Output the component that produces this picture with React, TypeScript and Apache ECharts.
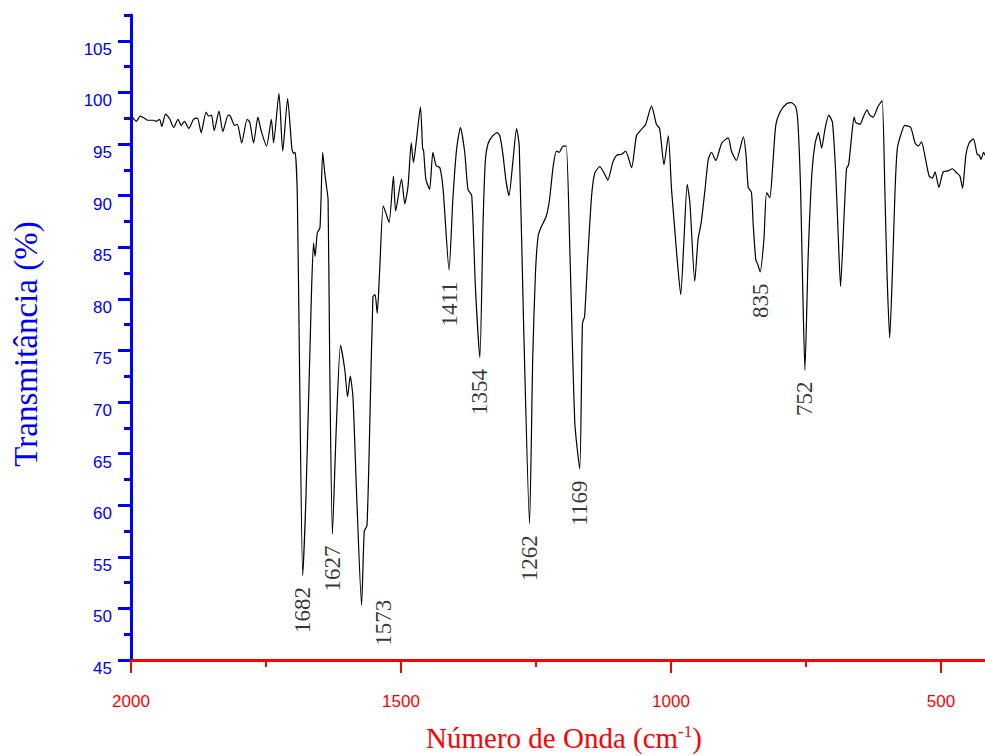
import React, { useEffect, useRef } from 'react';
import * as echarts from 'echarts';

const waveNumbers = [
  2000, 1990, 1983, 1975, 1969, 1959, 1953, 1947, 1943, 1936, 1928, 1921, 1913, 1907, 1901, 1893,
  1884, 1877, 1870, 1861, 1856, 1851, 1846, 1837, 1830, 1820, 1816, 1808, 1803, 1795, 1785, 1780,
  1773, 1765, 1759, 1749, 1740, 1736, 1726, 1719, 1710, 1702, 1699, 1696, 1692, 1688, 1682, 1676,
  1666, 1662, 1659, 1655, 1650, 1645, 1641, 1638, 1635, 1632, 1627, 1620, 1612, 1604, 1599, 1594,
  1589, 1582, 1573, 1568, 1563, 1558, 1552, 1548, 1544, 1540, 1533, 1528, 1522, 1514, 1510, 1499,
  1493, 1487, 1481, 1477, 1472, 1464, 1460, 1458, 1454, 1447, 1441, 1435, 1428, 1422, 1411, 1404,
  1397, 1390, 1382, 1376, 1369, 1362, 1354, 1348, 1344, 1339, 1330, 1322, 1317, 1311, 1306, 1300,
  1293, 1286, 1281, 1273, 1262, 1256, 1251, 1246, 1240, 1231, 1225, 1218, 1212, 1207, 1200, 1194,
  1187, 1178, 1169, 1164, 1160, 1154, 1147, 1141, 1132, 1124, 1117, 1108, 1101, 1092, 1084, 1073,
  1064, 1055, 1047, 1036, 1027, 1021, 1013, 1005, 999, 993, 989, 982, 976, 970, 965, 956,
  950, 944, 937, 931, 925, 917, 906, 894, 888, 879, 866, 861, 857, 851, 848, 843,
  839, 835, 828, 823, 817, 812, 806, 798, 786, 777, 769, 765, 760, 756, 752, 746,
  739, 733, 727, 721, 715, 708, 701, 695, 690, 686, 680, 675, 671, 666, 661, 658,
  650, 644, 637, 632, 626, 616, 609, 604, 600, 595, 590, 585, 581, 575, 567, 556,
  548, 542, 536, 530, 522, 516, 511, 504, 496, 487, 479, 471, 465, 460, 454, 448,
  440, 433, 429, 426, 421, 418.5,
];

const transmittance = [
  97.8, 97.2, 97.7, 97.5, 97.3, 97.3, 97.2, 97.4, 96.7, 97.9, 97.4, 96.6, 97.4, 96.8, 97.2, 96.5,
  97.4, 97.5, 96.1, 98.1, 97.7, 97.8, 96.3, 98.2, 96.2, 97.8, 97.7, 96.8, 96.9, 95.1, 97.4, 97.1,
  95.1, 97.6, 96.3, 94.8, 97.4, 95.1, 99.9, 94.3, 99.4, 94.5, 94.1, 94.2, 90.0, 73.8, 53.2, 60.8,
  80.2, 85.4, 84.1, 86.4, 86.9, 94.2, 92.1, 90.9, 89.6, 73.8, 57.2, 67.3, 75.5, 73.1, 70.5, 72.5,
  70.5, 60.8, 50.3, 57.5, 58.0, 67.3, 80.2, 80.4, 78.6, 82.2, 89.0, 88.3, 87.4, 91.9, 88.5, 91.6,
  89.2, 90.9, 95.1, 93.2, 95.1, 98.6, 94.6, 94.3, 91.6, 90.6, 94.2, 92.9, 92.7, 90.6, 82.8, 89.6,
  94.5, 96.6, 94.2, 90.6, 90.0, 80.9, 74.3, 87.4, 93.2, 95.0, 95.8, 96.1, 95.8, 93.9, 91.6, 90.0,
  93.2, 96.5, 94.8, 77.6, 58.2, 74.4, 82.5, 86.1, 87.0, 88.0, 89.6, 92.9, 94.3, 94.2, 94.8, 94.8,
  84.1, 67.9, 63.5, 77.6, 78.3, 84.1, 90.0, 92.2, 92.8, 92.2, 91.5, 93.2, 93.9, 94.0, 94.3, 92.7,
  95.8, 96.4, 96.9, 98.7, 96.9, 96.5, 93.0, 95.8, 90.6, 86.7, 84.1, 80.4, 85.7, 91.1, 89.3, 81.7,
  85.7, 87.4, 90.6, 93.5, 94.2, 93.4, 95.1, 95.6, 94.3, 93.4, 95.7, 93.9, 90.8, 90.3, 87.4, 83.8,
  83.3, 82.6, 85.7, 90.3, 89.8, 92.6, 96.8, 98.1, 98.9, 99.0, 98.6, 97.1, 90.6, 80.9, 73.1, 84.1,
  92.2, 95.1, 96.1, 94.6, 96.4, 97.8, 97.1, 92.2, 85.7, 81.2, 87.4, 92.6, 93.0, 95.5, 97.6, 97.1,
  96.9, 97.6, 98.3, 97.8, 97.6, 98.7, 99.2, 90.6, 82.5, 76.2, 82.5, 90.6, 94.5, 95.8, 96.8, 96.6,
  95.1, 94.8, 95.2, 93.9, 91.9, 91.7, 92.3, 90.8, 92.3, 92.4, 92.6, 92.2, 91.9, 90.7, 93.9, 95.1,
  95.5, 94.0, 93.9, 93.5, 94.2, 93.9,
];

const peakLabels = [1682, 1627, 1573, 1411, 1354, 1262, 1169, 835, 752];

const xMajorTicks = [2000, 1500, 1000, 500];
const xMinorTicks = [1750, 1250, 750];
const yMajorTicks = [45, 50, 55, 60, 65, 70, 75, 80, 85, 90, 95, 100, 105];
const yMinorTicks = [47.5, 52.5, 57.5, 62.5, 67.5, 72.5, 77.5, 82.5, 87.5, 92.5, 97.5, 102.5, 107.5];

const yTitle = 'Transmitância (%)';
const xTitle = 'Número de Onda (cm';

const BLUE = '#0000ff';
const RED = '#ff0000';
const SERIF = '"Liberation Serif", "Times New Roman", serif';
const SANS = '"Liberation Sans", Arial, sans-serif';

export default function App() {
  const ref = useRef<HTMLDivElement>(null);

  useEffect(() => {
    if (!ref.current) return;
    const chart = echarts.init(ref.current, null, { renderer: 'svg' });

    const spectrum = waveNumbers.map((w, i) => [w, transmittance[i]]);
    const labelShift: Record<number, number[]> = { 1573: [17, 22] };
    const peakPoints = peakLabels.map((w) => {
      const i = waveNumbers.indexOf(w);
      const item: any = { value: [w, transmittance[i]] };
      if (labelShift[w]) item.label = { offset: labelShift[w] };
      return item;
    });

    const xMin = 418.5;
    const xMax = 2000;
    const yMin = 45;
    const yMax = 107.5;
    const plain = (v: number) => String(v);

    chart.setOption({
      animation: false,
      backgroundColor: '#ffffff',
      grid: { left: 131, right: 0, top: 15, bottom: 96 },
      xAxis: [
        {
          type: 'value',
          inverse: true,
          min: xMin,
          max: xMax,
          position: 'bottom',
          axisLine: { show: true, onZero: false, lineStyle: { color: RED, width: 3 } },
          axisTick: { show: true, customValues: xMajorTicks, length: 13, lineStyle: { color: RED, width: 2 } },
          axisLabel: {
            show: true,
            customValues: xMajorTicks,
            formatter: plain,
            color: RED,
            fontFamily: SANS,
            fontSize: 17,
            margin: 33,
          },
          splitLine: { show: false },
        },
        {
          type: 'value',
          inverse: true,
          min: xMin,
          max: xMax,
          position: 'bottom',
          axisLine: { show: false, onZero: false },
          axisTick: { show: true, customValues: xMinorTicks, length: 7, lineStyle: { color: RED, width: 2 } },
          axisLabel: { show: false },
          splitLine: { show: false },
        },
      ],
      yAxis: [
        {
          type: 'value',
          min: yMin,
          max: yMax,
          position: 'left',
          axisLine: { show: true, onZero: false, lineStyle: { color: BLUE, width: 3 } },
          axisTick: { show: true, customValues: yMajorTicks, length: 13, lineStyle: { color: BLUE, width: 3 } },
          axisLabel: {
            show: true,
            customValues: yMajorTicks,
            formatter: plain,
            color: BLUE,
            fontFamily: SANS,
            fontSize: 17,
            margin: 19,
            verticalAlign: 'top',
          },
          splitLine: { show: false },
        },
        {
          type: 'value',
          min: yMin,
          max: yMax,
          position: 'left',
          axisLine: { show: false, onZero: false },
          axisTick: { show: true, customValues: yMinorTicks, length: 7, lineStyle: { color: BLUE, width: 3 } },
          axisLabel: { show: false },
          splitLine: { show: false },
        },
      ],
      series: [
        {
          type: 'line',
          name: 'spectrum',
          xAxisIndex: 0,
          yAxisIndex: 0,
          data: spectrum,
          showSymbol: false,
          symbol: 'none',
          smooth: 0.2,
          lineStyle: { color: '#000000', width: 1.2 },
          silent: true,
          z: 3,
        },
        {
          type: 'scatter',
          name: 'peaks',
          xAxisIndex: 0,
          yAxisIndex: 0,
          data: peakPoints,
          symbolSize: 1,
          itemStyle: { color: 'rgba(0,0,0,0)' },
          silent: true,
          z: 4,
          label: {
            show: true,
            formatter: (p: any) => String(p.value[0]),
            position: 'bottom',
            distance: 11,
            rotate: 90,
            align: 'right',
            verticalAlign: 'middle',
            color: '#000000',
            fontFamily: SERIF,
            fontSize: 23,
          },
        },
      ],
      graphic: [
        {
          type: 'text',
          x: 26,
          y: 344,
          rotation: Math.PI / 2,
          silent: true,
          style: {
            text: yTitle,
            fill: BLUE,
            font: `33px ${SERIF}`,
            align: 'center',
            verticalAlign: 'middle',
          },
        },
        {
          type: 'text',
          x: 564,
          y: 738,
          silent: true,
          style: {
            text: `{a|${xTitle}}{s|-1}{a|)}`,
            align: 'center',
            verticalAlign: 'middle',
            rich: {
              a: { fill: RED, fontFamily: SERIF, fontSize: 29, lineHeight: 30 },
              s: { fill: RED, fontFamily: SERIF, fontSize: 17, verticalAlign: 'top' },
            },
          },
        },
      ],
    });

    return () => {
      chart.dispose();
    };
  }, []);

  return (
    <div
      ref={ref}
      style={{ position: 'fixed', left: 0, top: 0, width: 985, height: 756, background: '#fff' }}
    />
  );
}
